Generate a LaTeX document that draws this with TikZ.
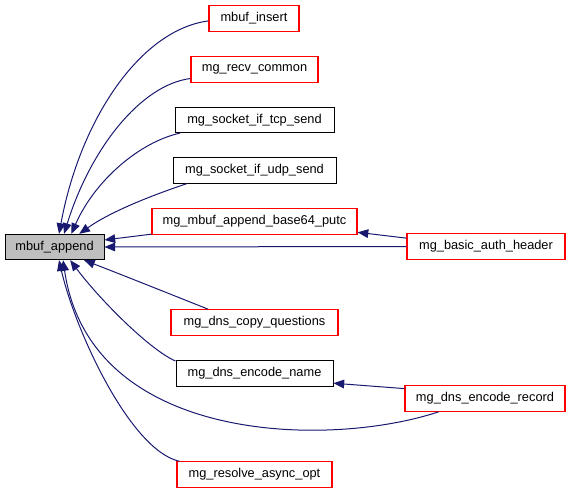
\documentclass[tikz,border=0pt]{standalone}
\usepackage{fontspec}
\setmainfont{Liberation Sans}
\usetikzlibrary{arrows.meta}
\definecolor{EdgeClr}{rgb}{0.1,0.1,0.44}
\definecolor{CallerClr}{rgb}{1,0,0}
\definecolor{MainClr}{rgb}{0.75,0.75,0.75}

\begin{document}
\begin{tikzpicture}[x=0.75pt,y=-0.75pt,
  fn/.style={draw=black,line width=0.75pt,fill=white,minimum height=19pt,inner sep=0pt,font=\fontsize{9.6}{11}\selectfont},
  caller/.style={fn,draw=CallerClr,line width=0.9pt},
  call/.style={EdgeClr,line width=0.75pt,-{Triangle[length=8pt,width=6.5pt]}}]
\useasboundingbox (0,0) rectangle (571,493);

\node[fn,fill=MainClr,minimum width=74.25pt] (append) at (54.5,247) {mbuf\_append};

\node[caller,minimum width=67.5pt] (insert) at (254,18.5) {mbuf\_insert};
\node[caller,minimum width=95.25pt] (recv) at (254.5,69.5) {mg\_recv\_common};
\node[fn,minimum width=119.25pt] (tcp) at (254.5,120) {mg\_socket\_if\_tcp\_send};
\node[fn,minimum width=122.25pt] (udp) at (254.5,170.5) {mg\_socket\_if\_udp\_send};
\node[caller,minimum width=153.75pt] (putc) at (254.5,221.5) {mg\_mbuf\_append\_base64\_putc};
\node[caller,minimum width=118.5pt] (auth) at (486,246.5) {mg\_basic\_auth\_header};
\node[caller,minimum width=125.25pt] (copy) at (254.5,322.5) {mg\_dns\_copy\_questions};
\node[fn,minimum width=117.75pt] (name) at (254.5,373.5) {mg\_dns\_encode\_name};
\node[caller,minimum width=120pt] (record) at (485,398.5) {mg\_dns\_encode\_record};
\node[caller,minimum width=116.25pt] (resolve) at (254.5,474.5) {mg\_resolve\_async\_opt};

\draw[call] (insert.183) .. controls (140,30) and (80,120) .. (append.71);
\draw[call] (recv.188) .. controls (140,85) and (90,150) .. (append.54);
\draw[call] (tcp.190) .. controls (140,142) and (95,180) .. (append.38);
\draw[call] (udp.191) .. controls (150,196) and (110,212) .. (append.28);
\draw[call] (putc.187) -- (append.8);
\draw[call] (auth.west) -- (append.east);
\draw[call] (auth.174) -- (putc.-6);
\draw[call] (copy.164) .. controls (170,294) and (125,276) .. (append.-24);
\draw[call] (name.171) .. controls (150,350) and (100,300) .. (append.-40);
\draw[call] (record.196) .. controls (330,448) and (90,445) .. (append.-57);
\draw[call] (record.173) -- (name.-7);
\draw[call] (resolve.170) .. controls (130,450) and (75,330) .. (append.-71);

\end{tikzpicture}
\end{document}
